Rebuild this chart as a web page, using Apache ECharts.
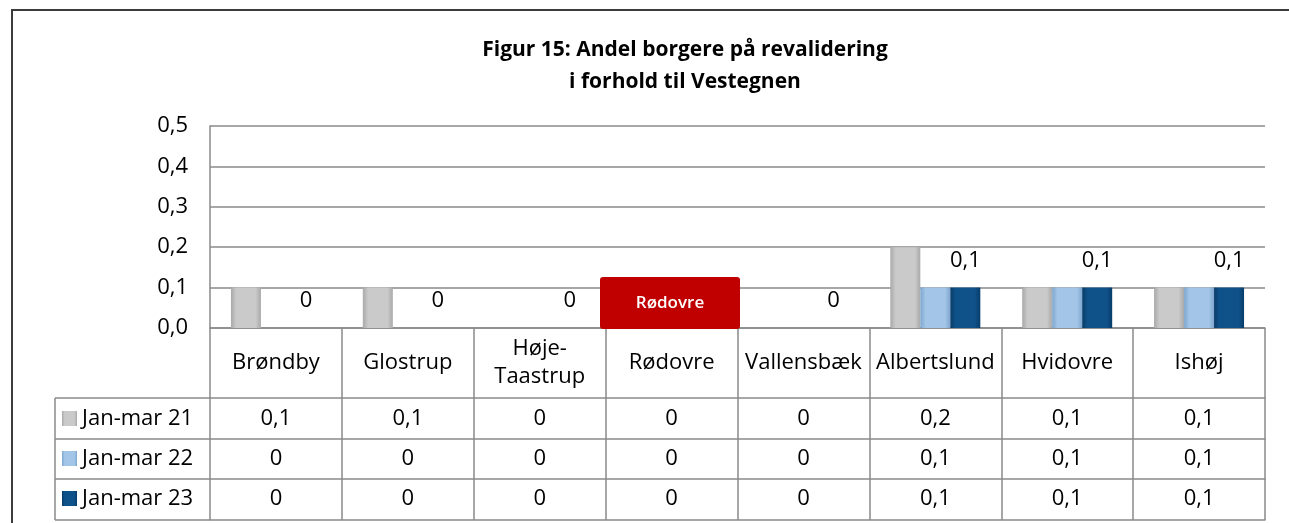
<!DOCTYPE html>
<html>
<head>
<meta charset="utf-8">
<script src="https://cdn.jsdelivr.net/npm/echarts@6/dist/echarts.min.js"></script>
<style>
  html, body { margin: 0; padding: 0; background: #fff; }
  #main { width: 1289px; height: 523px; }
</style>
</head>
<body>
<div id="main"></div>
<script>
// data
var categories = ["Brøndby", "Glostrup", "Høje-\nTaastrup", "Rødovre", "Vallensbæk", "Albertslund", "Hvidovre", "Ishøj"];
var seriesNames = ["Jan-mar 21", "Jan-mar 22", "Jan-mar 23"];
var jan21 = [0.1, 0.1, 0, 0, 0, 0.2, 0.1, 0.1];
var jan22 = [0, 0, 0, 0, 0, 0.1, 0.1, 0.1];
var jan23 = [0, 0, 0, 0, 0, 0.1, 0.1, 0.1];
var rows = [jan21, jan22, jan23];

var FONT = "Open Sans";
var FS = 22;
var lineCol = "#8a8a8a";

function fmt(v) {
  return v === 0 ? "0" : String(v).replace(".", ",");
}

function bevel(edge, mid) {
  return new echarts.graphic.LinearGradient(0, 0, 1, 0, [
    { offset: 0, color: edge },
    { offset: 0.18, color: mid },
    { offset: 0.82, color: mid },
    { offset: 1, color: edge }
  ]);
}
var colors = [
  bevel("#a9a9a9", "#cacaca"),
  bevel("#7ea6cf", "#a3c6e8"),
  bevel("#083c68", "#0f5189")
];

var myChart = echarts.init(document.getElementById("main"));

// rows of the data table, drawn as extra x axes under the grid
var rowOffsets = [70, 111, 151];
var xAxes = [{
  type: "category",
  data: categories,
  axisLine: { show: true, lineStyle: { color: lineCol, width: 1.5 } },
  axisTick: { show: true, length: 192, lineStyle: { color: lineCol, width: 1.5 } },
  axisLabel: {
    interval: 0, margin: 35, verticalAlign: "middle",
    fontSize: FS, lineHeight: 28, color: "#000", fontFamily: FONT
  }
}];
rows.forEach(function (r, k) {
  xAxes.push({
    type: "category",
    data: categories,
    position: "bottom",
    offset: rowOffsets[k],
    axisLine: { show: true, lineStyle: { color: lineCol, width: 1.5 } },
    axisTick: { show: false },
    axisLabel: {
      interval: 0, margin: k === 0 ? 21 : 20, verticalAlign: "middle",
      fontSize: FS, color: "#000", fontFamily: FONT,
      formatter: function (v, i) { return fmt(r[i]); }
    }
  });
});
// bottom border of the table
xAxes.push({
  type: "category",
  data: categories,
  position: "bottom",
  offset: 192,
  axisLine: { show: true, lineStyle: { color: lineCol, width: 1.5 } },
  axisTick: { show: false },
  axisLabel: { show: false }
});

var series = rows.map(function (r, k) {
  return {
    name: seriesNames[k],
    type: "bar",
    data: r,
    barWidth: 30,
    barGap: "0%",
    itemStyle: { color: colors[k] },
    label: {
      show: k === 2,
      position: "top",
      distance: 16,
      fontSize: FS,
      color: "#000",
      fontFamily: FONT,
      formatter: function (p) { return fmt(p.value); }
    }
  };
});

function hline(x1, x2, y) {
  return { type: "line", shape: { x1: x1, y1: y, x2: x2, y2: y }, style: { stroke: lineCol, lineWidth: 1.5 } };
}

myChart.setOption({
  animation: false,
  title: {
    text: "Figur 15: Andel borgere på revalidering\ni forhold til Vestegnen",
    left: 685,
    top: 34,
    padding: 0,
    textAlign: "center",
    textStyle: { fontSize: 21, fontWeight: "bold", lineHeight: 32, color: "#000", fontFamily: FONT }
  },
  legend: {
    data: seriesNames,
    orient: "vertical",
    left: 62,
    top: 407,
    padding: 0,
    itemGap: 17,
    itemWidth: 15,
    itemHeight: 15,
    icon: "rect",
    textStyle: { fontSize: FS, lineHeight: 23, color: "#000", fontFamily: FONT }
  },
  grid: { left: 210, right: 24, top: 126, bottom: 195, containLabel: false },
  xAxis: xAxes,
  yAxis: {
    type: "value",
    min: 0,
    max: 0.5,
    interval: 0.1,
    axisLine: { show: true, lineStyle: { color: lineCol, width: 1.5 } },
    axisTick: { show: false },
    splitLine: { lineStyle: { color: lineCol, width: 1.5 } },
    axisLabel: {
      margin: 22, fontSize: FS, color: "#000", fontFamily: FONT,
      formatter: function (v) { return v.toFixed(1).replace(".", ","); }
    }
  },
  series: series,
  graphic: [
    // outer frame
    { type: "rect", shape: { x: 12, y: 10, width: 1300, height: 600 }, style: { fill: null, stroke: "#3c3c3c", lineWidth: 2 }, z: 0, silent: true },
    // legend column of the data table
    hline(55, 210, 398),
    hline(55, 210, 439),
    hline(55, 210, 479),
    hline(55, 210, 520),
    { type: "line", shape: { x1: 55, y1: 398, x2: 55, y2: 520 }, style: { stroke: lineCol, lineWidth: 1.5 } },
    // highlight box
    {
      type: "group",
      z: 100,
      children: [
        { type: "rect", z: 100, shape: { x: 600, y: 277, width: 140, height: 52, r: 3 }, style: { fill: "#c00000" } },
        {
          type: "text", z: 101, x: 670, y: 303,
          style: { text: "Rødovre", fill: "#fff", fontSize: 17, fontWeight: 600, fontFamily: FONT, align: "center", verticalAlign: "middle" }
        }
      ]
    }
  ]
});
</script>
</body>
</html>
